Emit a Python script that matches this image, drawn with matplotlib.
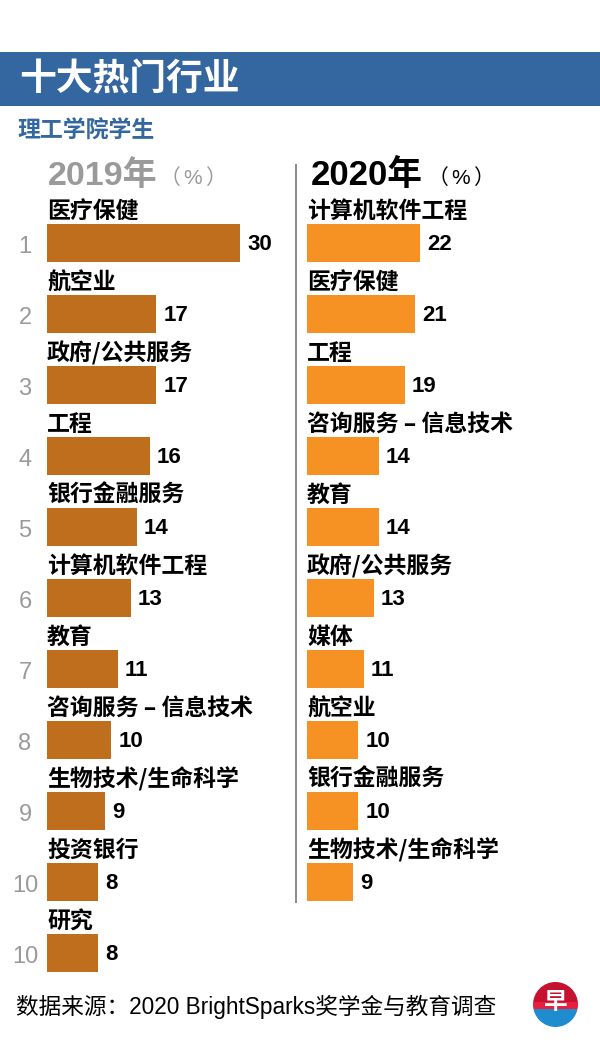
import matplotlib
matplotlib.use("Agg")
import matplotlib.pyplot as plt
from matplotlib.patches import Rectangle, Circle
from matplotlib.lines import Line2D
from matplotlib.transforms import blended_transform_factory

# ---------------- data ----------------
cats_2019 = ["医疗保健", "航空业", "政府/公共服务", "工程", "银行金融服务",
             "计算机软件工程", "教育", "咨询服务 – 信息技术", "生物技术/生命科学",
             "投资银行", "研究"]
vals_2019 = [30, 17, 17, 16, 14, 13, 11, 10, 9, 8, 8]
ranks_2019 = ["1", "2", "3", "4", "5", "6", "7", "8", "9", "10", "10"]

cats_2020 = ["计算机软件工程", "医疗保健", "工程", "咨询服务 – 信息技术", "教育",
             "政府/公共服务", "媒体", "航空业", "银行金融服务", "生物技术/生命科学"]
vals_2020 = [22, 21, 19, 14, 14, 13, 11, 10, 10, 9]

title = "十大热门行业"
subtitle = "理工学院学生"
year_left = "2019年"
year_right = "2020年"
unit_parts = ["（", "%", "）"]
source = "数据来源：2020 BrightSparks奖学金与教育调查"

# ---------------- styling ----------------
W, H = 600, 1047
CJK = ["Noto Sans CJK SC", "DejaVu Sans"]
LAT = ["Liberation Sans", "Noto Sans CJK SC", "DejaVu Sans"]
plt.rcParams["font.family"] = CJK

BLUE = "#34679f"
C2019 = "#be6e1c"
C2020 = "#f69223"
GRAY = "#9a9a9a"

fig = plt.figure(figsize=(W / 100, H / 100), dpi=100)
fig.patch.set_facecolor("white")


def fx(x):
    return x / W


def fy(y):
    return 1 - y / H


# header band
fig.patches.append(Rectangle((0, fy(106)), 1, (106 - 52) / H, transform=fig.transFigure,
                             facecolor=BLUE, edgecolor="none", zorder=0))
fig.text(fx(19), fy(80), title, color="white", fontsize=26.5, fontweight="bold",
         va="center", ha="left", family=CJK)
fig.text(fx(17), fy(131), subtitle, color=BLUE, fontsize=16.5, fontweight="bold",
         va="center", ha="left", family=CJK)

# year headers
fig.text(fx(48), fy(176), year_left, color=GRAY, fontsize=24.5, fontweight="bold",
         va="center", ha="left", family=LAT)
fig.text(fx(311), fy(176), year_right, color="black", fontsize=25, fontweight="bold",
         va="center", ha="left", family=LAT)
for x0, col in [(164, GRAY), (432, "black")]:
    for dx, part in zip([-4, 19, 41], unit_parts):
        fig.text(fx(x0 + dx), fy(178), part, color=col, fontsize=15, va="center",
                 ha="left", family=["Liberation Sans", "Noto Sans CJK SC"])

# divider
fig.lines.append(Line2D([fx(296), fx(296)], [fy(165), fy(902)], transform=fig.transFigure,
                        color="#8a8a8a", lw=1.4))

ROW = 71.0
Y0 = 243.0  # center of first bar (px)
BAR_H = 38 / ROW


def make_axes(left_px, width_px, px_per_unit):
    top = Y0 - ROW
    bottom = Y0 + ROW * 11
    ax = fig.add_axes([fx(left_px), fy(bottom), width_px / W, (bottom - top) / H])
    ax.set_xlim(0, width_px / px_per_unit)
    ax.set_ylim(11, -1)
    ax.axis("off")
    return ax


axL = make_axes(47, 243, 193 / 30)
axR = make_axes(307, 283, 113 / 22)


def draw(ax, cats, vals, color):
    ys = list(range(len(vals)))
    ax.barh(ys, vals, height=BAR_H, color=color, edgecolor="none", align="center")
    for i, (c, v) in enumerate(zip(cats, vals)):
        ax.text(0, i - 0.44, c, fontsize=16.5, fontweight="bold", color="black",
                va="center", ha="left", family=CJK, clip_on=False)
        ax.annotate(str(v), (v, i), xytext=(7, -2), textcoords="offset pixels",
                    fontsize=16, fontweight="bold", color="black", va="center",
                    ha="left", family=LAT, annotation_clip=False)


draw(axL, cats_2019, vals_2019, C2019)
draw(axR, cats_2020, vals_2020, C2020)

tr = blended_transform_factory(fig.transFigure, axL.transData)
for i, r in enumerate(ranks_2019):
    axL.text(fx(25), i + 0.05, r, transform=tr, fontsize=17, color=GRAY,
             va="center", ha="center", family=LAT, clip_on=False)

# footer
fig.text(fx(16), fy(1007), source, fontsize=16.3, color="black", va="center",
         ha="left", family=LAT)

# logo
axo = fig.add_axes([fx(533), fy(1027), 45 / W, 45 / H])
axo.set_xlim(-1, 1)
axo.set_ylim(-1, 1)
axo.set_aspect("equal")
axo.axis("off")
circ = Circle((0, 0), 1, transform=axo.transData)
for (y0, h, col) in [(0.1, 1.0, "#c41230"), (-0.2, 0.3, "#e8203f"), (-1.0, 0.8, "#1f8ccf")]:
    r = Rectangle((-1, y0), 2, h, facecolor=col, edgecolor="none")
    axo.add_patch(r)
    r.set_clip_path(circ)
axo.text(0, 0.1, "早", color="white", fontsize=17, fontweight="bold",
         ha="center", va="center", family=CJK)

fig.savefig("out.png", dpi=100)
